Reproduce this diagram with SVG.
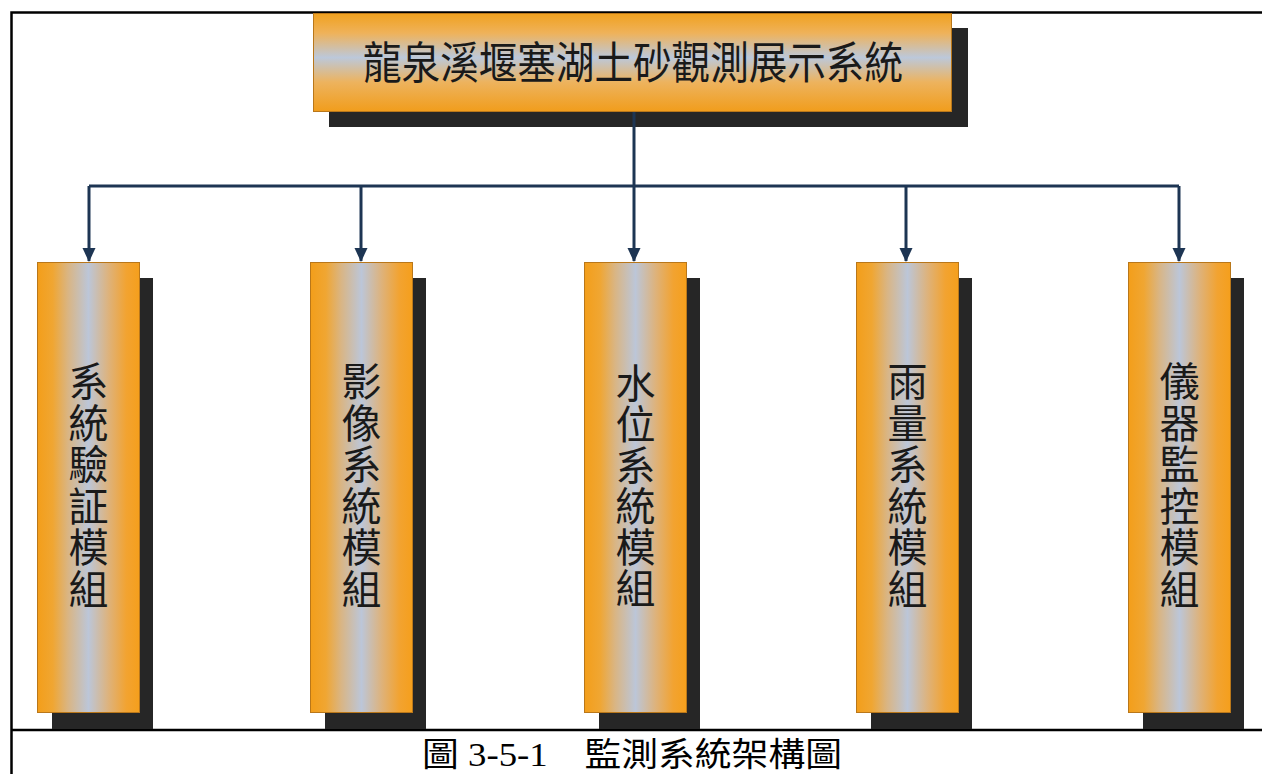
<svg xmlns="http://www.w3.org/2000/svg" width="1262" height="774" viewBox="0 0 1262 774">
  <defs>
    <linearGradient id="gTitle" x1="0" y1="0" x2="0" y2="1">
      <stop offset="0" stop-color="#f0a11f"/>
      <stop offset="0.2" stop-color="#efb25a"/>
      <stop offset="0.45" stop-color="#bcc8da"/>
      <stop offset="0.7" stop-color="#edb35e"/>
      <stop offset="1" stop-color="#f19d1c"/>
    </linearGradient>
    <linearGradient id="gCol" x1="0" y1="0" x2="1" y2="0">
      <stop offset="0" stop-color="#f39e1a"/>
      <stop offset="0.15" stop-color="#f0a632"/>
      <stop offset="0.3" stop-color="#d9b584"/>
      <stop offset="0.5" stop-color="#bcc6d8"/>
      <stop offset="0.7" stop-color="#deb27a"/>
      <stop offset="0.87" stop-color="#f2a331"/>
      <stop offset="1" stop-color="#f59f1c"/>
    </linearGradient>
    <marker id="arr" markerWidth="14" markerHeight="14" refX="13" refY="7" orient="auto" markerUnits="userSpaceOnUse">
      <path d="M0,0.5 L14,7 L0,13.5 Z" fill="#1d3553"/>
    </marker>
  </defs>
  <style>
    .shadow { fill: #262626; }
    .col { fill: url(#gCol); stroke: #b9771a; stroke-width: 1; }
    .title { fill: url(#gTitle); stroke: #b9771a; stroke-width: 1; }
    .lbl { font-family: "Noto Sans CJK TC", "Noto Sans CJK SC", sans-serif; fill: #1a1a1a; }
    .colt { font-size: 40px; text-anchor: middle; }
    .conn { stroke: #1d3553; stroke-width: 3; fill: none; }
    .frame { stroke: #000; stroke-width: 2.5; fill: none; }
    .cap { font-family: "Liberation Serif", "Noto Sans CJK TC", serif; font-size: 33px; fill: #000; }
  </style>
  <rect width="1262" height="774" fill="#ffffff"/>

  <g id="frame">
    <path class="frame" d="M11.5,774 V12.5 H1262"/>
    <path class="frame" d="M11.5,730 H1262"/>
  </g>

  <g id="root">
    <rect class="shadow" x="329" y="28" width="639" height="99"/>
    <rect class="title" x="313.5" y="13.5" width="638" height="98"/>
    <text class="lbl" x="633" y="79" font-size="44" text-anchor="middle" textLength="540" lengthAdjust="spacingAndGlyphs">龍泉溪堰塞湖土砂觀測展示系統</text>
  </g>

  <g id="connectors">
    <path class="conn" d="M634,112 V186"/>
    <path class="conn" d="M89,186 H1179"/>
    <path class="conn" d="M89,186 V261" marker-end="url(#arr)"/>
    <path class="conn" d="M361,186 V261" marker-end="url(#arr)"/>
    <path class="conn" d="M634,186 V261" marker-end="url(#arr)"/>
    <path class="conn" d="M906,186 V261" marker-end="url(#arr)"/>
    <path class="conn" d="M1179,186 V261" marker-end="url(#arr)"/>
  </g>

  <g id="m1">
    <rect class="shadow" x="52" y="278" width="101" height="451"/>
    <rect class="col" x="37.5" y="262.5" width="102" height="450"/>
    <text class="lbl colt"><tspan x="88.5" y="396">系</tspan><tspan x="88.5" dy="41.5">統</tspan><tspan x="88.5" dy="41.5">驗</tspan><tspan x="88.5" dy="41.5">証</tspan><tspan x="88.5" dy="41.5">模</tspan><tspan x="88.5" dy="41.5">組</tspan></text>
  </g>
  <g id="m2">
    <rect class="shadow" x="325" y="278" width="101" height="451"/>
    <rect class="col" x="310.5" y="262.5" width="102" height="450"/>
    <text class="lbl colt"><tspan x="361.5" y="396">影</tspan><tspan x="361.5" dy="41.5">像</tspan><tspan x="361.5" dy="41.5">系</tspan><tspan x="361.5" dy="41.5">統</tspan><tspan x="361.5" dy="41.5">模</tspan><tspan x="361.5" dy="41.5">組</tspan></text>
  </g>
  <g id="m3">
    <rect class="shadow" x="599" y="278" width="101" height="451"/>
    <rect class="col" x="584.5" y="262.5" width="102" height="450"/>
    <text class="lbl colt"><tspan x="635.5" y="398">水</tspan><tspan x="635.5" dy="41">位</tspan><tspan x="635.5" dy="41">系</tspan><tspan x="635.5" dy="41">統</tspan><tspan x="635.5" dy="41">模</tspan><tspan x="635.5" dy="41">組</tspan></text>
  </g>
  <g id="m4">
    <rect class="shadow" x="871" y="278" width="101" height="451"/>
    <rect class="col" x="856.5" y="262.5" width="102" height="450"/>
    <text class="lbl colt"><tspan x="907.5" y="396">雨</tspan><tspan x="907.5" dy="41.5">量</tspan><tspan x="907.5" dy="41.5">系</tspan><tspan x="907.5" dy="41.5">統</tspan><tspan x="907.5" dy="41.5">模</tspan><tspan x="907.5" dy="41.5">組</tspan></text>
  </g>
  <g id="m5">
    <rect class="shadow" x="1143" y="278" width="101" height="451"/>
    <rect class="col" x="1128.5" y="262.5" width="102" height="450"/>
    <text class="lbl colt"><tspan x="1179.5" y="396">儀</tspan><tspan x="1179.5" dy="41.5">器</tspan><tspan x="1179.5" dy="41.5">監</tspan><tspan x="1179.5" dy="41.5">控</tspan><tspan x="1179.5" dy="41.5">模</tspan><tspan x="1179.5" dy="41.5">組</tspan></text>
  </g>

  <g id="caption">
    <text class="cap" x="632" y="766" text-anchor="middle" textLength="420" lengthAdjust="spacingAndGlyphs" xml:space="preserve">圖 3-5-1　監測系統架構圖</text>
  </g>
</svg>
